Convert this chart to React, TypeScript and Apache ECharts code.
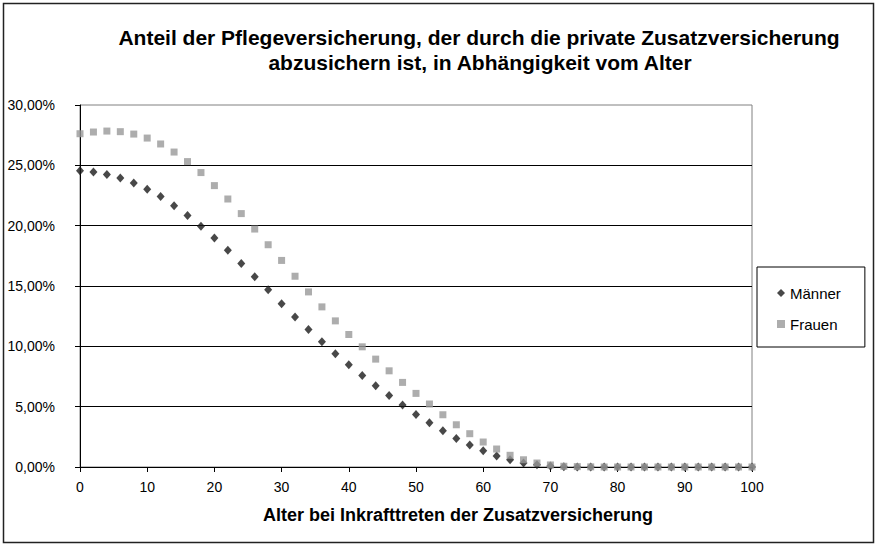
import React, { useEffect, useRef } from "react";
import * as echarts from "echarts";

const ages: number[] = [];
for (let a = 0; a <= 100; a += 2) ages.push(a);

const maenner = [
  24.56, 24.45, 24.23, 23.95, 23.54, 23.01, 22.41, 21.66, 20.84, 19.95,
  18.98, 17.96, 16.86, 15.77, 14.68, 13.52, 12.44, 11.4, 10.37, 9.38,
  8.47, 7.59, 6.73, 5.92, 5.13, 4.36, 3.67, 3.01, 2.37, 1.82,
  1.35, 0.91, 0.6, 0.33, 0.19, 0.08, 0.03, 0.01, 0, 0,
  0, 0, 0, 0, 0, 0, 0, 0, 0, 0, 0,
];

const frauen = [
  27.62, 27.76, 27.84, 27.79, 27.59, 27.26, 26.77, 26.1, 25.31, 24.4,
  23.32, 22.21, 21.0, 19.72, 18.42, 17.12, 15.81, 14.51, 13.27, 12.11,
  10.98, 9.96, 8.94, 7.97, 7.01, 6.1, 5.22, 4.33, 3.5, 2.76,
  2.07, 1.49, 0.97, 0.6, 0.33, 0.17, 0.06, 0.03, 0.01, 0,
  0, 0, 0, 0, 0, 0, 0, 0, 0, 0, 0,
];

const titleLines = [
  "Anteil der Pflegeversicherung, der durch die private Zusatzversicherung",
  "abzusichern ist, in Abhängigkeit vom Alter",
];
const xAxisTitle = "Alter bei Inkrafttreten der Zusatzversicherung";
const seriesNames = ["Männer", "Frauen"];

const FONT = "'Liberation Sans', Arial, sans-serif";

export default function App() {
  const ref = useRef<HTMLDivElement>(null);
  useEffect(() => {
    document.body.style.margin = "0";
    if (!ref.current) return;
    const chart = echarts.init(ref.current, undefined, { renderer: "svg" });
    chart.setOption({
      animation: false,
      backgroundColor: "#ffffff",
      textStyle: { fontFamily: FONT },
      grid: {
        left: 80,
        right: 125,
        top: 105,
        bottom: 79,
        show: true,
        borderColor: "#808080",
        borderWidth: 1,
        backgroundColor: "transparent",
      },
      graphic: [
        {
          type: "rect",
          shape: { x: 3.5, y: 3.5, width: 870, height: 539 },
          style: { fill: "none", stroke: "#222", lineWidth: 1.5 },
          silent: true,
        },
        {
          type: "text",
          x: 479,
          y: 37,
          style: {
            text: titleLines[0],
            fontFamily: FONT,
            fontWeight: "bold",
            fontSize: 21,
            fill: "#000",
            align: "center",
            verticalAlign: "middle",
          },
        },
        {
          type: "text",
          x: 480,
          y: 62,
          style: {
            text: titleLines[1],
            fontFamily: FONT,
            fontWeight: "bold",
            fontSize: 21,
            fill: "#000",
            align: "center",
            verticalAlign: "middle",
          },
        },
      ],
      legend: {
        orient: "vertical",
        left: 757,
        top: 267,
        padding: [18, 24, 15, 20],
        itemGap: 15,
        itemWidth: 8,
        itemHeight: 8,
        borderColor: "#000",
        borderWidth: 1,
        backgroundColor: "#fff",
        textStyle: { fontFamily: FONT, fontSize: 15, color: "#000", lineHeight: 16 },
        data: [
          { name: seriesNames[0], icon: "diamond" },
          { name: seriesNames[1], icon: "rect" },
        ],
      },
      xAxis: {
        type: "value",
        min: 0,
        max: 100,
        interval: 10,
        name: xAxisTitle,
        nameLocation: "middle",
        nameGap: 39,
        nameTextStyle: {
          fontFamily: FONT,
          fontWeight: "bold",
          fontSize: 18,
          color: "#000",
          padding: [0, 0, 0, 84],
        },
        axisLine: { show: true, onZero: false, lineStyle: { color: "#000", width: 1 } },
        axisTick: { show: true, length: 5, lineStyle: { color: "#000" } },
        axisLabel: { fontFamily: FONT, fontSize: 14, color: "#000", margin: 13 },
        splitLine: { show: false },
      },
      yAxis: {
        type: "value",
        min: 0,
        max: 30,
        interval: 5,
        axisLine: { show: true, lineStyle: { color: "#000", width: 1 } },
        axisTick: { show: true, length: 5, lineStyle: { color: "#000" } },
        axisLabel: {
          fontFamily: FONT,
          fontSize: 14,
          color: "#000",
          margin: 25,
          formatter: (v: number) => v.toFixed(2).replace(".", ",") + "%",
        },
        splitLine: { show: true, showMaxLine: false, lineStyle: { color: "#000", width: 1 } },
      },
      series: [
        {
          name: seriesNames[0],
          type: "scatter",
          symbol: "diamond",
          symbolSize: [8, 9],
          itemStyle: { color: "#1a1a1a" },
          data: ages.map((a, i) => [a, maenner[i]]),
          z: 3,
        },
        {
          name: seriesNames[1],
          type: "scatter",
          symbol: "rect",
          symbolSize: 7,
          itemStyle: { color: "#999999" },
          data: ages.map((a, i) => [a, frauen[i]]),
          z: 4,
        },
      ],
    });
    return () => chart.dispose();
  }, []);
  return <div ref={ref} style={{ width: 877, height: 546 }} />;
}
